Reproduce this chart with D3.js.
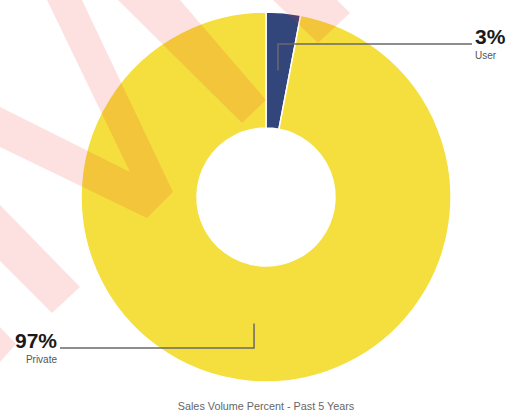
<!DOCTYPE html>
<html>
<head>
<meta charset="utf-8">
<script src="https://cdn.jsdelivr.net/npm/d3@7"></script>
<style>
  html, body { margin: 0; padding: 0; background: #fff; }
  svg { display: block; }
</style>
</head>
<body>
<svg></svg>
<script>
var width = 508;
var height = 416;

// chart data
var categories = ['User', 'Private'];
var values = [3, 97];
var colors = ['#33467c', '#f4df3e'];
var title = 'Sales Volume Percent - Past 5 Years';

// stock-image watermark bands (decoration, not data)
var watermark = [
  [[47,0],[82,0],[173,192],[147,218],[0,147],[0,107],[130,172]],
  [[118,0],[180,0],[266,100],[242,123]],
  [[273,0],[318,43],[350,13],[337,0]],
  [[0,205],[80,287],[52,313],[0,261]],
  [[0,327],[16,344],[0,362]]
];

var cx = 266, cy = 197;
var outerR = 185, innerR = 69;

var svg = d3.select('svg')
    .attr('width', width)
    .attr('height', height);

var data = categories.map(function(c, i) {
  return { name: c, value: values[i], color: colors[i] };
});

var pie = d3.pie()
    .sort(null)
    .value(d => d.value);

var arc = d3.arc()
    .innerRadius(innerR)
    .outerRadius(outerR);

var labelArc = d3.arc()
    .innerRadius(127)
    .outerRadius(127);

var g = svg.append('g')
    .attr('transform', 'translate(' + cx + ',' + cy + ')');

var arcs = pie(data);

g.selectAll('path.slice')
    .data(arcs)
    .enter()
    .append('path')
    .attr('class', 'slice')
    .attr('d', arc)
    .attr('fill', d => d.data.color)
    .attr('stroke', '#fff')
    .attr('stroke-width', 1.5);

// watermark over the chart
svg.append('g')
    .selectAll('polygon')
    .data(watermark)
    .enter()
    .append('polygon')
    .attr('points', d => d.map(p => p.join(',')).join(' '))
    .attr('fill', '#f0282a')
    .attr('opacity', 0.14);

// leader lines + labels
var labels = g.selectAll('g.label')
    .data(arcs)
    .enter()
    .append('g')
    .attr('class', 'label');

labels.each(function(d) {
  var c = labelArc.centroid(d);
  var side = c[0] > 0 ? 1 : -1;
  var elbowY = c[1] < 0 ? -153 : 151;
  var endX = side * 206;
  var sel = d3.select(this);

  sel.append('polyline')
      .attr('points', [c, [c[0], elbowY], [endX, elbowY]].map(p => p.join(',')).join(' '))
      .attr('fill', 'none')
      .attr('stroke', '#6a6a6a')
      .attr('stroke-width', 1.5);

  sel.append('text')
      .text(d.data.value + '%')
      .attr('x', endX + side * 3)
      .attr('y', elbowY)
      .attr('text-anchor', side > 0 ? 'start' : 'end')
      .style('font-family', '"Liberation Sans", Arial, sans-serif')
      .style('font-weight', 'bold')
      .style('font-size', '21px')
      .attr('fill', '#1a1a1a');

  sel.append('text')
      .text(d.data.name)
      .attr('x', endX + side * 3)
      .attr('y', elbowY + 14.5)
      .attr('text-anchor', side > 0 ? 'start' : 'end')
      .style('font-family', '"Liberation Sans", Arial, sans-serif')
      .style('font-size', '10px')
      .attr('fill', '#555');
});

// title
svg.append('text')
    .text(title)
    .attr('x', cx)
    .attr('y', 410)
    .attr('text-anchor', 'middle')
    .style('font-family', '"Liberation Sans", Arial, sans-serif')
    .style('font-size', '10.8px')
    .attr('fill', '#666');
</script>
</body>
</html>
